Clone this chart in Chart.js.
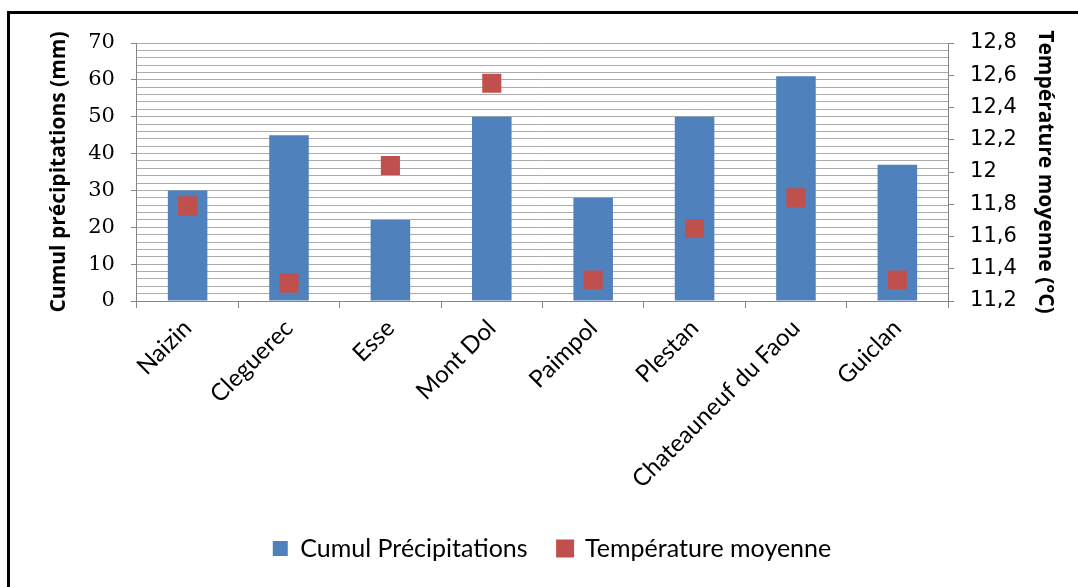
<!DOCTYPE html>
<html lang="fr">
<head>
<meta charset="utf-8">
<title>Cumul précipitations et température moyenne</title>
<script src="https://cdn.jsdelivr.net/npm/chart.js@4/dist/chart.umd.min.js"></script>
<style>
    html, body { margin: 0; padding: 0; background: #fff; }
    #cadre {
        position: absolute;
        left: 7px; top: 11px;
        width: 1100px; height: 600px;
        border-left: 3px solid #000;
        border-top: 3px solid #000;
        pointer-events: none;
    }
    #wrap { position: absolute; left: 0; top: 0; width: 1078px; height: 587px; }
</style>
</head>
<body>
<div id="wrap"><canvas id="graph"></canvas></div>
<div id="cadre"></div>
<script>
// ---- Données -----------------------------------------------------------

const stations     = ['Naizin', 'Cleguerec', 'Esse', 'Mont Dol', 'Paimpol', 'Plestan', 'Chateauneuf du Faou', 'Guiclan'];
const precipMm     = [30, 45, 22, 50, 28, 50, 61, 37];
const tempMoyenne  = [11.79, 11.31, 12.04, 12.55, 11.33, 11.65, 11.84, 11.33];

const precipMin = 0,    precipMax = 70,   precipPas = 2;    // quadrillage tous les 2 mm
const tempMin   = 11.2, tempMax   = 12.8, tempPas   = 0.2;

const BLEU   = '#4F81BD';
const ROUGE  = '#C0504D';
const AXE    = '#868686';
const GRILLE = '#ababab';

// ---- Graphique -----------------------------------------------------------

const ctx = document.getElementById('graph').getContext('2d');

new Chart(ctx, {
    type: 'bar',
    data: {
        labels: stations,
        datasets: [
            {
                label: 'Cumul Précipitations',
                data: precipMm,
                backgroundColor: BLEU,
                borderWidth: 0,
                categoryPercentage: 1,
                barPercentage: 0.39,
                yAxisID: 'y',
                order: 2
            },
            {
                type: 'line',
                label: 'Température moyenne',
                data: tempMoyenne,
                showLine: false,
                pointStyle: 'rect',
                pointRadius: 13.5,
                pointHoverRadius: 13.5,
                pointBorderWidth: 0,
                backgroundColor: ROUGE,
                borderColor: ROUGE,
                yAxisID: 'y1',
                order: 1
            }
        ]
    },
    options: {
        responsive: true,
        maintainAspectRatio: false,
        animation: false,
        layout: { padding: { top: 43, left: 46, right: 20, bottom: 16 } },
        plugins: {
            tooltip: { enabled: false },
            legend: {
                position: 'bottom',
                labels: {
                    sort: (a, b) => a.datasetIndex - b.datasetIndex,
                    boxWidth: 15,
                    boxHeight: 15,
                    padding: 30,
                    color: '#000',
                    font: { family: 'Lato', size: 25 }
                }
            }
        },
        scales: {
            x: {
                afterFit: s => { s.height = 205; },
                grid: {
                    offset: true,
                    drawOnChartArea: false,
                    color: AXE,
                    tickLength: 7
                },
                border: { color: AXE },
                ticks: {
                    minRotation: 45,
                    maxRotation: 45,
                    autoSkip: false,
                    color: '#000',
                    padding: 6,
                    font: { family: 'Lato', size: 24 }
                }
            },
            y: {
                position: 'left',
                min: precipMin,
                max: precipMax,
                border: { color: AXE },
                grid: {
                    color: GRILLE,
                    tickLength: 6,
                    tickColor: c => (c.tick && c.tick.value % 10 === 0) ? AXE : 'rgba(0,0,0,0)'
                },
                ticks: {
                    stepSize: precipPas,
                    autoSkip: false,
                    padding: 16,
                    color: '#000',
                    font: { family: 'DejaVu Serif', size: 21 },
                    callback: v => (v % 10 === 0) ? v : ''
                },
                title: {
                    display: true,
                    text: 'Cumul précipitations (mm)',
                    color: '#000',
                    padding: { top: 0, bottom: 1 },
                    font: { family: 'Open Sans', size: 21, weight: 'bold' }
                }
            },
            y1: {
                position: 'right',
                min: tempMin,
                max: tempMax,
                border: { color: AXE },
                grid: { drawOnChartArea: false, color: AXE, tickLength: 6 },
                ticks: {
                    stepSize: tempPas,
                    padding: 16,
                    color: '#000',
                    font: { family: 'DejaVu Sans', size: 21 },
                    callback: v => String(Math.round(v * 10) / 10).replace('.', ',')
                },
                title: {
                    display: true,
                    text: 'Température moyenne (°C)',
                    color: '#000',
                    padding: { top: 0, bottom: 0 },
                    font: { family: 'Open Sans', size: 21, weight: 'bold' }
                }
            }
        }
    }
});
</script>
</body>
</html>
